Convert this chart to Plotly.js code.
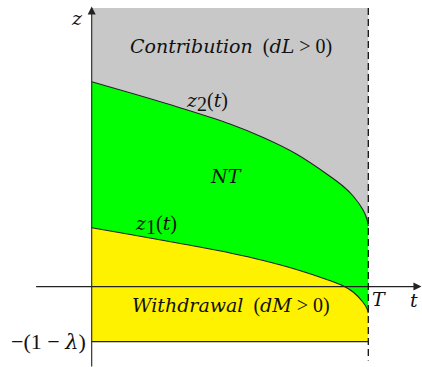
<!DOCTYPE html>
<html>
<head>
<meta charset="utf-8">
<script src="https://cdn.plot.ly/plotly-3.0.1.min.js"></script>
<style>html,body{margin:0;padding:0;background:#fff;}#chart{width:422px;height:367px;}</style>
</head>
<body>
<div id="chart"></div>
<script>
// time grid (T = 1)
const t  = [0, 0.16, 0.34, 0.50, 0.62, 0.74, 0.86, 0.91, 0.945, 0.98, 0.995, 1.0];
// upper boundary z2(t)
const z2 = [2.049, 1.921, 1.771, 1.626, 1.491, 1.326, 1.106, 1.001, 0.906, 0.771, 0.676, 0.606];
// lower boundary z1(t)
const z1 = [0.589, 0.511, 0.421, 0.336, 0.261, 0.171, 0.061, 0.006, -0.054, -0.154, -0.219, -0.264];
const T = 1.0;
const zTop = 2.786;          // top of the diagram
const zBottom = -0.55;       // -(1 - lambda)

// italic parts in DejaVu Serif italic, upright parts in Liberation Serif
const I = s => "<i>" + s + "</i>";
const U = s => '<span style="font-family:Liberation Serif;font-size:20px">' + s + "</span>";
const U2 = s => '<span style="font-family:Liberation Serif;font-size:22px">' + s + "</span>";
const regionLabels = [
  I("Contribution") + U("  (") + I("dL") + U(" &gt; 0)"),
  I("NT"),
  I("Withdrawal") + U("  (") + I("dM") + U(" &gt; 0)")
];
const curveLabels = [
  I("z") + "<sub>" + U("1") + "</sub>" + U("(") + I("t") + U(")"),
  I("z") + "<sub>" + U("2") + "</sub>" + U("(") + I("t") + U(")")
];
const axisLabels = [I("t"), I("z"), I("T"), U2("−(1 − ") + I("λ") + U2(")")];

const GRAY = "rgb(200,200,200)", GREEN = "rgb(0,255,0)", YELLOW = "rgb(255,242,0)";
const INK = "#222";
const rev = a => a.slice().reverse();

const traces = [
  {x: t.concat([T, 0]), y: z2.concat([zTop, zTop]), fill: "toself", fillcolor: GRAY,
   mode: "lines", line: {width: 0}, hoverinfo: "skip"},
  {x: t.concat(rev(t)), y: z2.concat(rev(z1)), fill: "toself", fillcolor: GREEN,
   mode: "lines", line: {width: 0}, hoverinfo: "skip"},
  {x: t.concat([T, 0]), y: z1.concat([zBottom, zBottom]), fill: "toself", fillcolor: YELLOW,
   mode: "lines", line: {width: 0}, hoverinfo: "skip"},
  {x: t, y: z2, mode: "lines", line: {color: INK, width: 1.1, shape: "spline", smoothing: 0.8}, hoverinfo: "skip"},
  {x: t, y: z1, mode: "lines", line: {color: INK, width: 1.1, shape: "spline", smoothing: 0.8}, hoverinfo: "skip"},
  {x: [0, T], y: [zBottom, zBottom], mode: "lines", line: {color: INK, width: 1.1}, hoverinfo: "skip"},
  // axes
  {x: [0, 0], y: [-0.80, 2.78], mode: "lines", line: {color: INK, width: 1.1}, hoverinfo: "skip"},
  {x: [-0.201, 1.185], y: [0, 0], mode: "lines", line: {color: INK, width: 1.1}, hoverinfo: "skip"},
  {x: [0], y: [2.80], mode: "markers", marker: {symbol: "arrow-up", size: 8, color: INK}, hoverinfo: "skip"},
  {x: [1.192], y: [0], mode: "markers", marker: {symbol: "arrow-right", size: 8, color: INK}, hoverinfo: "skip"}
];

const F = {family: "DejaVu Serif", size: 19, color: "#111"};
function lab(text, x, y, extra) {
  return Object.assign({text: text, x: x, y: y, xref: "x", yref: "y", showarrow: false,
    xanchor: "center", yanchor: "middle", font: F}, extra || {});
}

const layout = {
  width: 422, height: 367, autosize: false,
  margin: {l: 0, r: 0, t: 0, b: 0},
  paper_bgcolor: "#fff", plot_bgcolor: "#fff",
  showlegend: false,
  xaxis: {range: [-0.3315, 1.1941], visible: false, fixedrange: true},
  yaxis: {range: [-0.804, 2.866], visible: false, fixedrange: true},
  shapes: [
    {type: "line", xref: "x", yref: "y", x0: T, x1: T, y0: zTop, y1: -0.74,
     line: {color: "#111", width: 1.3, dash: "7px,4px"}}
  ],
  annotations: [
    lab(axisLabels[1], -0.053, 2.69),
    lab(axisLabels[0], 1.165, -0.13),
    lab(axisLabels[2], 1.039, -0.12),
    lab(axisLabels[3], -0.012, zBottom, {xanchor: "right", font: Object.assign({}, F, {size: 21})}),
    lab(regionLabels[0], 0.502, 2.406),
    lab(curveLabels[1], 0.416, 1.85),
    lab(regionLabels[1], 0.486, 1.11),
    lab(curveLabels[0], 0.234, 0.62),
    lab(regionLabels[2], 0.504, -0.185)
  ]
};

Plotly.newPlot("chart", traces, layout, {staticPlot: true, displayModeBar: false});
</script>
</body>
</html>
